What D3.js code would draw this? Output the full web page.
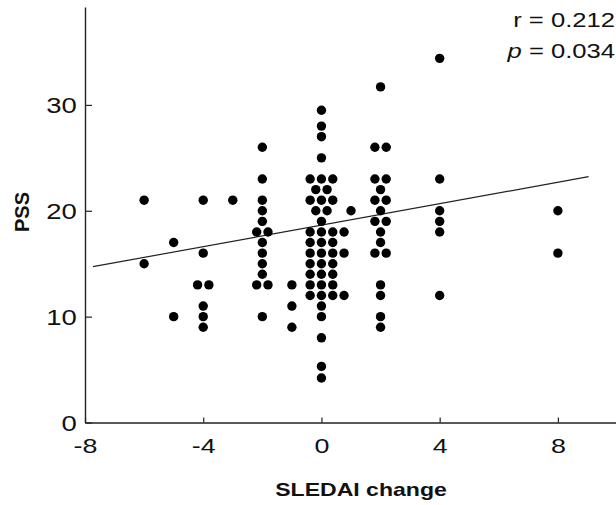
<!DOCTYPE html>
<html><head><meta charset="utf-8">
<script src="https://cdn.jsdelivr.net/npm/d3@7"></script>
<style>body{margin:0;background:#fff}svg{display:block}</style>
</head><body><svg id="chart" width="616" height="505"></svg>
<script>
// ---- data ----
const sledaiChange = [
  -6,-6,
  -5,-5,
  -4,-4,-4,-4,-4,-4,-4,
  -3,
  -2,-2,-2,-2,-2,-2,-2,-2,-2,-2,-2,-2,-2,-2,
  -1,-1,-1,
  0,0,0,0,0,0,0,0,0,0,0,0,0,0,0,0,0,0,0,0,0,0,0,0,0,0,0,0,0,0,0,0,0,0,0,0,0,0,0,0,0,0,0,0,
  1,
  2,2,2,2,2,2,2,2,2,2,2,2,2,2,2,2,2,2,2,
  4,4,4,4,4,4,
  8,8
];
const pss = [
  21,15,
  17,10,
  21,16,13,13,11,10,9,
  21,
  26,23,21,20,19,18,18,17,16,15,14,13,13,10,
  13,11,9,
  29.5,28,27,25,23,23,23,22,22,21,21,21,20,20,19,18,18,18,18,17,17,17,16,16,16,16,15,15,15,14,14,14,13,13,13,12,12,12,12,11,10,8,5.3,4.2,
  20,
  31.7,26,26,23,23,22,21,21,20,19,19,18,17,16,16,13,12,10,9,
  34.4,23,20,19,18,12,
  20,16
];
const xTicks = [-8, -4, 0, 4, 8];
const yTicks = [0, 10, 20, 30];
const xDomain = [-8, 10];
const yDomain = [0, 39.25];
const fitRange = [-7.73, 9.04];      // extent of the regression line (SLEDAI change)
const fitCoef = [18.64, 0.507];      // intercept, slope
const statR = "r = 0.212";
const statP = ["p", " = 0.034"];
const xTitle = "SLEDAI change";
const yTitle = "PSS";

// ---- drawing ----
const svg = d3.select("#chart");
const x = d3.scaleLinear().domain(xDomain).range([85, 617]);
const y = d3.scaleLinear().domain(yDomain).range([422.5, 7]);
const ink = "#222";
const font = "'Liberation Sans', Arial, Helvetica, sans-serif";
const fmt = d => String(d);   // plain hyphen-minus as in the original

// x axis
const gx = svg.append("g").attr("transform", `translate(0,${y(0)})`)
  .call(d3.axisBottom(x).tickValues(xTicks).tickSizeInner(-5).tickSizeOuter(0).tickFormat(fmt));
gx.select(".domain").attr("stroke", ink).attr("stroke-width", 1.4);
gx.selectAll(".tick line").attr("stroke", ink).attr("stroke-width", 1.2);
gx.selectAll(".tick text").attr("y", 30.5).attr("dy", 0)
  .attr("transform", "scale(1.28,1)")
  .attr("fill", "#111").style("font-family", font).style("font-size", "21px");

// y axis
const gy = svg.append("g").attr("transform", `translate(${x(-8)},0)`)
  .call(d3.axisLeft(y).tickValues(yTicks).tickSizeInner(-7).tickSizeOuter(0).tickFormat(fmt));
gy.select(".domain").attr("stroke", ink).attr("stroke-width", 1.4);
gy.selectAll(".tick line").attr("stroke", ink).attr("stroke-width", 1.2);
gy.selectAll(".tick text").attr("x", -6.6).attr("dy", "0.36em")
  .attr("transform", "scale(1.25,1)")
  .attr("fill", "#111").style("font-family", font).style("font-size", "22px");

// regression line
svg.append("line")
  .attr("x1", x(fitRange[0])).attr("y1", y(fitCoef[0] + fitCoef[1] * fitRange[0]))
  .attr("x2", x(fitRange[1])).attr("y2", y(fitCoef[0] + fitCoef[1] * fitRange[1]))
  .attr("stroke", ink).attr("stroke-width", 1.2);

// points, dodged horizontally when several share the same value pair
const points = sledaiChange.map((s, i) => ({ s, p: pss[i] }));
const groups = d3.group(points, d => d.s + "|" + d.p);
const spacing = 11.3;
groups.forEach(arr => {
  const n = arr.length;
  const c = Math.min((n - 1) / 2, 1);
  arr.forEach((d, i) => { d.dx = (i - c) * spacing; });
});
svg.append("g").selectAll("circle").data(points).join("circle")
  .attr("cx", d => x(d.s) + d.dx)
  .attr("cy", d => y(d.p))
  .attr("r", 4.7)
  .attr("fill", "#000");

// stats text
svg.append("text").attr("transform", "translate(615,27) scale(1.28,1)")
  .attr("text-anchor", "end").attr("fill", "#111")
  .style("font-family", font).style("font-size", "20px").text(statR);
const tp = svg.append("text").attr("transform", "translate(615,58) scale(1.28,1)")
  .attr("text-anchor", "end").attr("fill", "#111")
  .style("font-family", font).style("font-size", "20px");
tp.append("tspan").style("font-style", "italic").text(statP[0]);
tp.append("tspan").text(statP[1]);

// axis titles
svg.append("text").attr("transform", "translate(361,496) scale(1.24,1)")
  .attr("text-anchor", "middle").attr("fill", "#111")
  .style("font-family", font).style("font-size", "18.6px").style("font-weight", "bold")
  .text(xTitle);
svg.append("text").attr("transform", "translate(29,212) rotate(-90)")
  .attr("text-anchor", "middle").attr("fill", "#111")
  .style("font-family", font).style("font-size", "20px").style("font-weight", "bold")
  .text(yTitle);
</script>
</body></html>
